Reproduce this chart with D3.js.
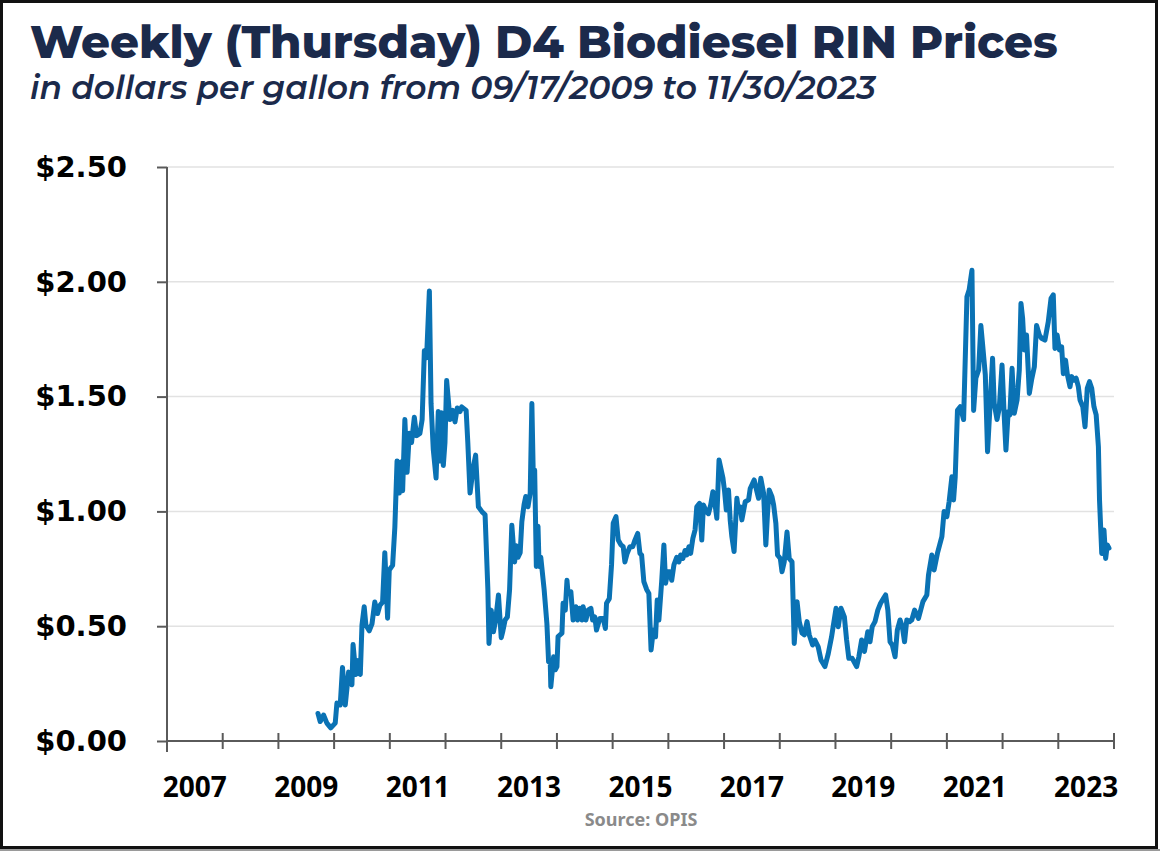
<!DOCTYPE html>
<html>
<head>
<meta charset="utf-8">
<script src="https://cdn.jsdelivr.net/npm/d3@7"></script>
<style>
  html, body { margin: 0; padding: 0; background: #fff; }
  svg { display: block; }
</style>
</head>
<body>
<svg id="chart"></svg>
<script>
// weekly (Thursday) observations, as decimal years
const weeks = [
  2009.71, 2009.75, 2009.81, 2009.87, 2009.94, 2010.02, 2010.05, 2010.11, 2010.15, 2010.20,
  2010.26, 2010.32, 2010.34, 2010.39, 2010.43, 2010.47, 2010.50, 2010.54, 2010.57, 2010.63,
  2010.68, 2010.73, 2010.78, 2010.82, 2010.87, 2010.91, 2010.96, 2010.99, 2011.05, 2011.09,
  2011.13, 2011.17, 2011.20, 2011.23, 2011.27, 2011.31, 2011.35, 2011.39, 2011.44, 2011.48,
  2011.54, 2011.58, 2011.62, 2011.66, 2011.71, 2011.74, 2011.78, 2011.83, 2011.87, 2011.90,
  2011.93, 2011.96, 2011.99, 2012.02, 2012.08, 2012.13, 2012.17, 2012.21, 2012.26, 2012.29,
  2012.37, 2012.40, 2012.44, 2012.50, 2012.54, 2012.59, 2012.65, 2012.71, 2012.76, 2012.78,
  2012.82, 2012.86, 2012.90, 2012.95, 2013.00, 2013.03, 2013.07, 2013.11, 2013.15, 2013.19,
  2013.24, 2013.27, 2013.30, 2013.34, 2013.37, 2013.41, 2013.44, 2013.48, 2013.52, 2013.55,
  2013.58, 2013.60, 2013.63, 2013.66, 2013.68, 2013.71, 2013.77, 2013.82, 2013.85, 2013.88,
  2013.89, 2013.94, 2013.97, 2014.00, 2014.02, 2014.09, 2014.11, 2014.15, 2014.18, 2014.20,
  2014.25, 2014.29, 2014.34, 2014.37, 2014.41, 2014.45, 2014.47, 2014.52, 2014.56, 2014.61,
  2014.64, 2014.68, 2014.71, 2014.77, 2014.83, 2014.87, 2014.89, 2014.94, 2014.98, 2015.01,
  2015.06, 2015.10, 2015.15, 2015.19, 2015.22, 2015.26, 2015.31, 2015.36, 2015.40, 2015.45,
  2015.49, 2015.52, 2015.56, 2015.61, 2015.65, 2015.69, 2015.73, 2015.77, 2015.80, 2015.83,
  2015.88, 2015.92, 2015.95, 2015.99, 2016.03, 2016.06, 2016.10, 2016.15, 2016.19, 2016.22,
  2016.26, 2016.30, 2016.33, 2016.37, 2016.40, 2016.44, 2016.48, 2016.51, 2016.56, 2016.60,
  2016.63, 2016.68, 2016.72, 2016.76, 2016.80, 2016.84, 2016.87, 2016.91, 2016.98, 2017.01,
  2017.04, 2017.08, 2017.11, 2017.14, 2017.18, 2017.23, 2017.26, 2017.29, 2017.32, 2017.38,
  2017.44, 2017.47, 2017.54, 2017.59, 2017.62, 2017.66, 2017.71, 2017.75, 2017.78, 2017.81,
  2017.86, 2017.89, 2017.93, 2017.96, 2018.01, 2018.04, 2018.08, 2018.13, 2018.17, 2018.22,
  2018.26, 2018.31, 2018.35, 2018.40, 2018.44, 2018.49, 2018.53, 2018.59, 2018.63, 2018.69,
  2018.74, 2018.81, 2018.87, 2018.93, 2019.01, 2019.05, 2019.10, 2019.16, 2019.20, 2019.24,
  2019.30, 2019.38, 2019.42, 2019.47, 2019.52, 2019.58, 2019.62, 2019.66, 2019.71, 2019.76,
  2019.81, 2019.86, 2019.90, 2019.94, 2019.98, 2020.02, 2020.07, 2020.11, 2020.16, 2020.20,
  2020.24, 2020.28, 2020.33, 2020.37, 2020.42, 2020.49, 2020.57, 2020.64, 2020.67, 2020.73,
  2020.77, 2020.83, 2020.91, 2020.95, 2021.00, 2021.04, 2021.09, 2021.12, 2021.15, 2021.19,
  2021.24, 2021.30, 2021.36, 2021.40, 2021.45, 2021.48, 2021.52, 2021.57, 2021.61, 2021.64,
  2021.69, 2021.73, 2021.78, 2021.82, 2021.85, 2021.90, 2021.94, 2021.99, 2022.03, 2022.06,
  2022.10, 2022.13, 2022.17, 2022.21, 2022.26, 2022.30, 2022.33, 2022.36, 2022.39, 2022.43,
  2022.48, 2022.52, 2022.57, 2022.61, 2022.66, 2022.70, 2022.76, 2022.82, 2022.87, 2022.91,
  2022.94, 2022.98, 2023.02, 2023.06, 2023.09, 2023.13, 2023.16, 2023.21, 2023.24, 2023.28,
  2023.32, 2023.36, 2023.39, 2023.44, 2023.48, 2023.52, 2023.56, 2023.60, 2023.64, 2023.68,
  2023.72, 2023.74, 2023.78, 2023.82, 2023.85, 2023.88, 2023.91
];

// D4 RIN price, dollars per gallon
const prices = [
  0.120, 0.085, 0.113, 0.078, 0.057, 0.078, 0.165, 0.157, 0.320, 0.157,
  0.300, 0.245, 0.420, 0.290, 0.350, 0.290, 0.505, 0.585, 0.505, 0.480,
  0.510, 0.605, 0.555, 0.590, 0.605, 0.820, 0.535, 0.745, 0.765, 0.930,
  1.220, 1.080, 1.215, 1.090, 1.400, 1.170, 1.340, 1.300, 1.410, 1.330,
  1.340, 1.400, 1.700, 1.670, 1.960, 1.470, 1.270, 1.145, 1.435, 1.220,
  1.430, 1.200, 1.300, 1.570, 1.400, 1.440, 1.390, 1.450, 1.435, 1.455,
  1.440, 1.300, 1.080, 1.195, 1.245, 1.020, 1.000, 0.985, 0.660, 0.425,
  0.570, 0.476, 0.527, 0.636, 0.450, 0.480, 0.527, 0.540, 0.660, 0.940,
  0.780, 0.850, 0.800, 0.820, 0.955, 1.030, 1.065, 1.020, 1.080, 1.470,
  1.095, 1.180, 0.760, 0.935, 0.760, 0.800, 0.660, 0.510, 0.345, 0.340,
  0.236, 0.367, 0.310, 0.324, 0.455, 0.470, 0.600, 0.570, 0.700, 0.643,
  0.650, 0.527, 0.585, 0.527, 0.578, 0.527, 0.585, 0.527, 0.570, 0.578,
  0.527, 0.540, 0.483, 0.534, 0.534, 0.490, 0.600, 0.620, 0.767, 0.948,
  0.977, 0.875, 0.854, 0.846, 0.780, 0.817, 0.846, 0.846, 0.875, 0.904,
  0.817, 0.810, 0.694, 0.660, 0.643, 0.396, 0.483, 0.454, 0.614, 0.527,
  0.694, 0.854, 0.687, 0.737, 0.737, 0.700, 0.767, 0.800, 0.780, 0.810,
  0.795, 0.830, 0.810, 0.846, 0.817, 0.883, 0.920, 1.020, 1.035, 0.875,
  1.028, 1.000, 0.990, 1.028, 1.086, 1.028, 0.970, 1.224, 1.145, 1.086,
  1.006, 1.093, 0.963, 0.890, 0.825, 1.057, 1.000, 1.020, 0.963, 1.042,
  1.050, 1.100, 1.137, 1.086, 1.057, 1.144, 1.078, 0.854, 0.990, 1.093,
  1.064, 1.028, 0.948, 0.810, 0.795, 0.737, 0.780, 0.910, 0.795, 0.780,
  0.425, 0.607, 0.520, 0.470, 0.462, 0.520, 0.462, 0.418, 0.440, 0.410,
  0.353, 0.324, 0.380, 0.454, 0.578, 0.498, 0.578, 0.540, 0.440, 0.360,
  0.360, 0.324, 0.367, 0.440, 0.390, 0.476, 0.432, 0.498, 0.520, 0.570,
  0.600, 0.620, 0.636, 0.570, 0.432, 0.418, 0.367, 0.483, 0.527, 0.498,
  0.432, 0.527, 0.520, 0.527, 0.570, 0.534, 0.607, 0.636, 0.723, 0.810,
  0.745, 0.817, 0.890, 1.000, 0.977, 1.042, 1.151, 1.050, 1.151, 1.440,
  1.456, 1.400, 1.935, 1.965, 2.050, 1.440, 1.580, 1.616, 1.810, 1.730,
  1.594, 1.260, 1.485, 1.667, 1.470, 1.400, 1.449, 1.638, 1.412, 1.267,
  1.434, 1.420, 1.623, 1.427, 1.485, 1.616, 1.906, 1.840, 1.703, 1.768,
  1.514, 1.572, 1.630, 1.810, 1.768, 1.754, 1.746, 1.826, 1.928, 1.943,
  1.710, 1.768, 1.703, 1.717, 1.600, 1.659, 1.600, 1.543, 1.587, 1.572,
  1.580, 1.543, 1.485, 1.456, 1.369, 1.536, 1.565, 1.536, 1.456, 1.420,
  1.282, 1.050, 0.817, 0.919, 0.795, 0.854, 0.840
];

const yTicks = [0, 0.5, 1.0, 1.5, 2.0, 2.5];
const yearTicks = d3.range(2007, 2025);
const yearLabels = ['2007', '2009', '2011', '2013', '2015', '2017', '2019', '2021', '2023'];

const width = 1160;
const height = 851;
const navy = '#1b2a4b';
const axisColor = '#5a5a5a';

const svg = d3.select('#chart')
  .attr('width', width)
  .attr('height', height);

svg.append('rect')
  .attr('width', width).attr('height', height)
  .attr('fill', '#fff');

// frame around the picture
svg.append('rect')
  .attr('x', 0).attr('y', 849).attr('width', width).attr('height', 2)
  .attr('fill', '#9a9a9a');
svg.append('rect')
  .attr('x', 1.5).attr('y', 1.5).attr('width', 1155).attr('height', 846)
  .attr('fill', 'none')
  .attr('stroke', '#111')
  .attr('stroke-width', 3);

const x = d3.scaleLinear().domain([2007, 2024]).range([167, 1114]);
const y = d3.scaleLinear().domain([0, 2.5]).range([741, 167]);

// fit a text to a target width by scaling its font size
function fitText(sel, target) {
  const w = sel.node().getComputedTextLength();
  const fs = parseFloat(sel.attr('font-size'));
  sel.attr('font-size', (fs * target / w).toFixed(2));
}

// Titles
const title = svg.append('text')
  .attr('x', 30).attr('y', 58)
  .attr('fill', navy)
  .attr('font-family', 'Montserrat, Inter, "Open Sans", sans-serif')
  .attr('font-weight', 800)
  .attr('font-size', 40)
  .text('Weekly (Thursday) D4 Biodiesel RIN Prices');
fitText(title, 1028);

const subtitle = svg.append('text')
  .attr('x', 30).attr('y', 99)
  .attr('fill', navy)
  .attr('font-family', 'Montserrat, Inter, "Open Sans", sans-serif')
  .attr('font-weight', 600)
  .attr('font-style', 'italic')
  .attr('font-size', 26)
  .text('in dollars per gallon from 09/17/2009 to 11/30/2023');
fitText(subtitle, 846);

// Gridlines
svg.append('g')
  .selectAll('line')
  .data(yTicks.slice(1))
  .enter().append('line')
  .attr('x1', x(2007)).attr('x2', x(2024))
  .attr('y1', d => y(d)).attr('y2', d => y(d))
  .attr('stroke', '#e2e2e2')
  .attr('stroke-width', 1.5);

// Y axis
const yAxis = svg.append('g')
  .attr('transform', `translate(${x(2007)},0)`)
  .call(d3.axisLeft(y).tickValues(yTicks).tickSize(10).tickSizeOuter(0).tickPadding(30)
    .tickFormat(d3.format('$.2f')));
yAxis.select('.domain').remove();
yAxis.selectAll('.tick line').attr('stroke', axisColor).attr('stroke-width', 2);
yAxis.selectAll('.tick text')
  .attr('fill', '#000')
  .attr('font-family', '"DejaVu Sans", Verdana, sans-serif')
  .attr('font-weight', 'bold')
  .attr('font-size', 29);

svg.append('line')
  .attr('x1', x(2007)).attr('x2', x(2007))
  .attr('y1', y(2.5)).attr('y2', y(0) + 11)
  .attr('stroke', axisColor).attr('stroke-width', 2);

// X axis
svg.append('line')
  .attr('x1', x(2007)).attr('x2', x(2024))
  .attr('y1', y(0)).attr('y2', y(0))
  .attr('stroke', axisColor).attr('stroke-width', 2);

svg.append('g')
  .selectAll('line')
  .data(yearTicks.slice(1))
  .enter().append('line')
  .attr('x1', d => x(d)).attr('x2', d => x(d))
  .attr('y1', y(0) - 8).attr('y2', y(0) + 8)
  .attr('stroke', axisColor)
  .attr('stroke-width', 2);

svg.append('g')
  .selectAll('text')
  .data(yearLabels)
  .enter().append('text')
  .attr('x', d => x(+d + 0.5))
  .attr('y', 797)
  .attr('text-anchor', 'middle')
  .attr('fill', '#000')
  .attr('font-family', '"Noto Sans", sans-serif')
  .attr('font-weight', 'bold')
  .attr('font-size', 28)
  .text(d => d);

// Price line
const series = weeks.map((w, i) => ({ t: w, v: prices[i] }));

const line = d3.line()
  .x(d => x(d.t))
  .y(d => y(d.v));

svg.append('path')
  .datum(series)
  .attr('d', line)
  .attr('fill', 'none')
  .attr('stroke', '#0a72b4')
  .attr('stroke-width', 5)
  .attr('stroke-linejoin', 'round')
  .attr('stroke-linecap', 'round');

// Source note
svg.append('text')
  .attr('x', 641).attr('y', 826)
  .attr('text-anchor', 'middle')
  .attr('fill', '#8a8a8a')
  .attr('font-family', '"Noto Sans", sans-serif')
  .attr('font-weight', 'bold')
  .attr('font-size', 18)
  .text('Source: OPIS');
</script>
</body>
</html>
